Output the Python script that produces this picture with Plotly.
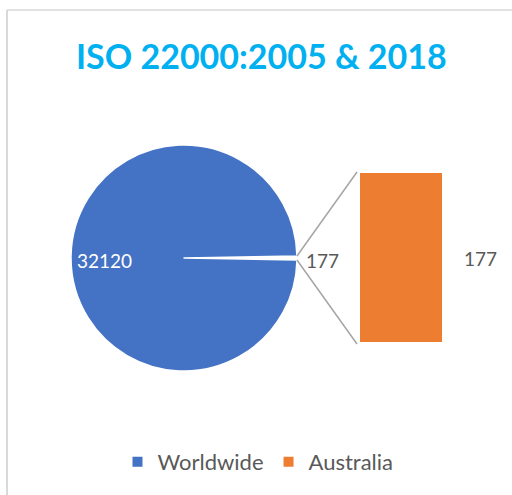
import plotly.graph_objects as go
import math

# ---- data ----
categories = ["Worldwide", "Australia"]
values = [32120, 177]
colors = ["#4472C4", "#ED7D31"]
title_text = "ISO 22000:2005 & 2018"

W, H = 512, 495
def px(x): return x / W
def py(y): return 1 - y / H

# geometry (pixels)
cx, cy, r = 184, 258, 113
bar_l, bar_r, bar_t, bar_b = 360, 442, 173, 342

total = sum(values)
aus_angle = values[1] / total * 360.0

fig = go.Figure()

# pie: Australia slice (small, white gap) centred at 3 o'clock
fig.add_trace(go.Pie(
    labels=[categories[1], categories[0]],
    values=[values[1], values[0]],
    sort=False, direction="clockwise",
    rotation=90 - aus_angle / 2,
    marker=dict(colors=["#FFFFFF", colors[0]], line=dict(color="#FFFFFF", width=1.5)),
    textinfo="none", hoverinfo="label+value",
    showlegend=False,
    domain=dict(x=[px(cx - r), px(cx + r)], y=[py(cy + r), py(cy - r)]),
))

# bar of the breakout
fig.add_trace(go.Bar(
    x=[categories[1]], y=[values[1]],
    marker=dict(color=colors[1], line=dict(width=0)),
    showlegend=False, xaxis="x", yaxis="y",
))

# legend entries
for name, c in zip(categories, colors):
    fig.add_trace(go.Scatter(
        x=[None], y=[None], mode="markers", name=name,
        marker=dict(symbol="square", size=10, color=c),
        xaxis="x", yaxis="y",
    ))

fnt = "Lato, Open Sans, sans-serif"
ann = [
    dict(text=str(values[0]), x=px(cx - 80), y=py(260), font=dict(color="white", size=19)),
    dict(text=str(values[1]), x=px(cx + r + 25), y=py(260), font=dict(color="#595959", size=19)),
    dict(text=str(values[1]), x=px(bar_r + 38), y=py(258), font=dict(color="#595959", size=19)),
]
annotations = [dict(a, xref="paper", yref="paper", showarrow=False,
                    xanchor="center", yanchor="middle") for a in ann]
annotations.append(dict(text="<b>" + title_text + "</b>", xref="paper", yref="paper",
                        x=px(261), y=py(55), showarrow=False, xanchor="center", yanchor="middle",
                        font=dict(color="#00B0F0", size=34, family=fnt)))

a1 = math.radians(aus_angle / 2)
sx = cx + r * math.cos(a1)
shapes = [
    dict(type="line", xref="paper", yref="paper", x0=px(sx), y0=py(cy - r * math.sin(a1)),
         x1=px(bar_l - 3), y1=py(bar_t - 1), line=dict(color="#A5A5A5", width=1.5)),
    dict(type="line", xref="paper", yref="paper", x0=px(sx), y0=py(cy + r * math.sin(a1)),
         x1=px(bar_l - 3), y1=py(bar_b + 2), line=dict(color="#A5A5A5", width=1.5)),
    # chart-area border (left and top)
    dict(type="line", xref="paper", yref="paper", x0=px(7), y0=py(10), x1=px(7), y1=0,
         line=dict(color="#D9D9D9", width=2)),
    dict(type="line", xref="paper", yref="paper", x0=px(7), y0=py(10), x1=1, y1=py(10),
         line=dict(color="#D9D9D9", width=1.5)),
]

fig.update_layout(
    width=W, height=H,
    margin=dict(l=0, r=0, t=0, b=0),
    paper_bgcolor="white", plot_bgcolor="white",
    font=dict(family=fnt, color="#595959", size=19),
    xaxis=dict(domain=[px(bar_l), px(bar_r)], range=[-0.5, 0.5], visible=False, fixedrange=True),
    yaxis=dict(domain=[py(bar_b), py(bar_t)], range=[0, values[1]], visible=False, fixedrange=True),
    bargap=0,
    showlegend=True,
    legend=dict(orientation="h", x=px(258), xanchor="center", y=py(462), yanchor="middle",
                font=dict(size=22, color="#595959"), itemwidth=30),
    annotations=annotations,
    shapes=shapes,
)

fig.write_html("out.html", config={"displayModeBar": False},
               post_script="document.body.style.margin='0';document.body.style.overflow='hidden';")
